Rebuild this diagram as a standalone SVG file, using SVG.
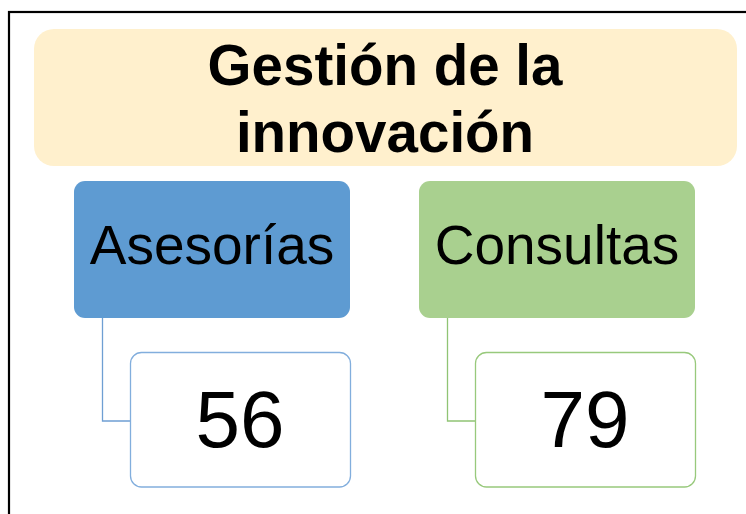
<svg xmlns="http://www.w3.org/2000/svg" width="746" height="514" viewBox="0 0 746 514">
<style>
.t{font-family:"Liberation Sans",Arial,sans-serif;fill:#000;text-anchor:middle}
.child{fill:#fff;stroke-width:1.3}
</style>
<rect x="0" y="0" width="746" height="514" fill="#fff"/>
<rect x="9" y="12" width="760" height="530" fill="none" stroke="#000" stroke-width="2.2"/>
<g id="connectors" fill="none" stroke-width="1.3">
<path d="M102.5 318V421H130" stroke="#6f9fd3"/>
<path d="M447.5 318V421H475" stroke="#90c474"/>
</g>
<g id="title">
<rect x="34" y="29" width="703" height="137" rx="20" fill="#fff0cd"/>
<text class="t" x="385" y="85" font-size="56.5" font-weight="bold">Gestión de la</text>
<text class="t" x="385" y="152" font-size="56.5" font-weight="bold">innovación</text>
</g>
<g id="asesorias">
<rect x="74" y="181" width="276" height="137" rx="11" fill="#5e9bd2"/>
<text class="t" x="212" y="264" font-size="55">Asesorías</text>
</g>
<g id="n56">
<rect class="child" x="130.5" y="352.5" width="220" height="134.5" rx="11" stroke="#82aedd"/>
<text class="t" x="240" y="447" font-size="80">56</text>
</g>
<g id="consultas">
<rect x="419" y="181" width="276" height="137" rx="11" fill="#a9d08f"/>
<text class="t" x="557" y="264" font-size="55">Consultas</text>
</g>
<g id="n79">
<rect class="child" x="475.5" y="352.5" width="220" height="134.5" rx="11" stroke="#98c97c"/>
<text class="t" x="585" y="447" font-size="80">79</text>
</g>
</svg>
